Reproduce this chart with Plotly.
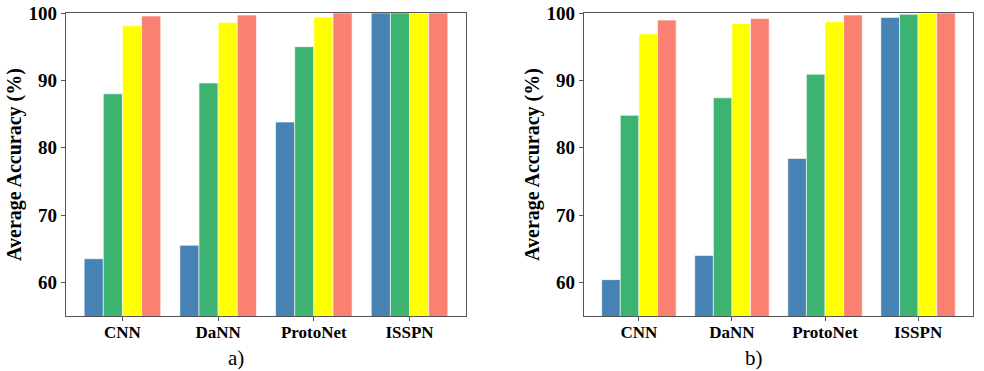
import plotly.graph_objects as go

W, H = 984, 371

categories = ["CNN", "DaNN", "ProtoNet", "ISSPN"]

# panel a)
a_s1 = [63.5, 65.5, 83.8, 100.0]
a_s2 = [88.0, 89.6, 95.0, 100.0]
a_s3 = [98.1, 98.6, 99.4, 100.0]
a_s4 = [99.55, 99.7, 100.0, 100.0]

# panel b)
b_s1 = [60.4, 64.0, 78.4, 99.35]
b_s2 = [84.8, 87.4, 90.9, 99.8]
b_s3 = [96.9, 98.45, 98.7, 100.0]
b_s4 = [98.95, 99.2, 99.7, 100.0]

colors = ["#4682B4", "#3CB371", "#FFFF00", "#FA8072"]
yticks = [60, 70, 80, 90, 100]

fig = go.Figure()

def add_panel(series, xa, ya):
    for vals, c in zip(series, colors):
        fig.add_trace(go.Bar(
            x=categories, y=vals, marker=dict(color=c, line=dict(color="white", width=0.6)),
            xaxis=xa, yaxis=ya, showlegend=False,
        ))

add_panel([a_s1, a_s2, a_s3, a_s4], "x", "y")
add_panel([b_s1, b_s2, b_s3, b_s4], "x2", "y2")

def px_x(p):
    return p / W

def px_y(p):
    return 1 - p / H

serif = "Liberation Serif"
axis_common = dict(showline=True, linecolor="#555555", linewidth=1.2, mirror=True,
                   ticks="outside", ticklen=4, tickcolor="#555555", tickwidth=1,
                   showgrid=False, zeroline=False, automargin=False)
xfont = dict(family=serif, size=17, color="black")
yfont = dict(family=serif, size=19, color="black")
ytitle = dict(text="<b>Average Accuracy (%)</b>", font=dict(family=serif, size=20, color="black"), standoff=1)

xr = [-0.59, 3.59]
fig.update_layout(
    width=W, height=H, margin=dict(l=0, r=0, t=0, b=0),
    plot_bgcolor="white", paper_bgcolor="white",
    barmode="group", bargap=0.2, bargroupgap=0,
    xaxis=dict(domain=[px_x(66), px_x(466)], range=xr, anchor="y", tickfont=xfont, ticklabelstandoff=-4,
               tickvals=categories, ticktext=[f"<b>{c}</b>" for c in categories], **axis_common),
    yaxis=dict(domain=[px_y(316), px_y(13)], range=[55, 100], anchor="x", tickfont=yfont,
               tickvals=yticks, ticktext=[f"<b>{t}</b>" for t in yticks],
               title=ytitle, **axis_common),
    xaxis2=dict(domain=[px_x(584), px_x(973)], range=xr, anchor="y2", tickfont=xfont, ticklabelstandoff=-4,
                tickvals=categories, ticktext=[f"<b>{c}</b>" for c in categories], **axis_common),
    yaxis2=dict(domain=[px_y(316), px_y(13)], range=[55, 100], anchor="x2", tickfont=yfont,
                tickvals=yticks, ticktext=[f"<b>{t}</b>" for t in yticks],
                title=ytitle, **axis_common),
)

for txt, xc in [("a)", 236), ("b)", 754)]:
    fig.add_annotation(text=txt, x=px_x(xc), y=px_y(358), xref="paper", yref="paper",
                       showarrow=False, xanchor="center", yanchor="middle",
                       font=dict(family=serif, size=21, color="black"))

fig.write_html("out.html")
